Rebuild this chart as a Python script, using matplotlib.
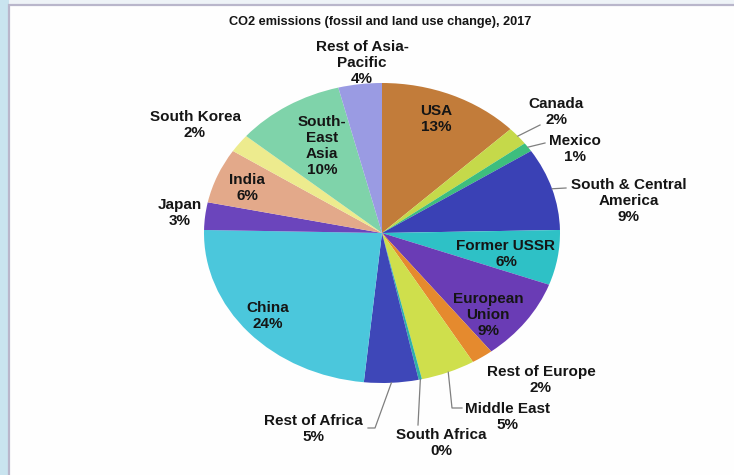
import matplotlib
matplotlib.use("Agg")
import matplotlib.pyplot as plt
import matplotlib.patches as mpatches
import numpy as np

regions = ["USA", "Canada", "Mexico", "South & Central\nAmerica", "Former USSR",
           "European\nUnion", "Rest of Europe", "Middle East", "South Africa",
           "Rest of Africa", "China", "Japan", "India", "South Korea",
           "South-\nEast\nAsia", "Rest of Asia-\nPacific"]
shares = [13, 2, 1, 9, 6, 9, 2, 5, 0.3, 5, 24, 3, 6, 2, 10, 4]
colors = ["#C27C3A", "#C5D94A", "#3DBE7E", "#3A41B5", "#2EC1C6", "#6A3CB5",
          "#E58A2E", "#CFDF4C", "#2FB0A8", "#3E47B8", "#4BC7DC", "#6B45BC",
          "#E3A98A", "#EDEB8E", "#7FD3AA", "#9A9BE3"]

# label anchor positions in pixels (x, y from top) and leader line targets
label_px = {
    "USA": (436, 119), "Canada": (556, 112), "Mexico": (575, 149),
    "South & Central\nAmerica": (629, 201), "Former USSR": (506, 254),
    "European\nUnion": (488, 315), "Rest of Europe": (541, 380),
    "Middle East": (507, 417), "South Africa": (441, 443),
    "Rest of Africa": (313, 429), "China": (268, 316), "Japan": (180, 213),
    "India": (247, 188), "South Korea": (195, 125),
    "South-\nEast\nAsia": (322, 146), "Rest of Asia-\nPacific": (362, 63),
}
leader_end_px = {
    "Canada": [(540, 125)], "Mexico": [(545, 143)],
    "South & Central\nAmerica": [(566, 188)],
    "Middle East": [(452, 408), (462, 408)],
    "South Africa": [(418, 425)],
    "Rest of Africa": [(375, 428), (368, 428)],
}

W, H = 734, 475
fig = plt.figure(figsize=(W / 100, H / 100), dpi=100)
fig.patch.set_facecolor("#FFFFFF")

# light blue strip on the left and top, then the chart frame
fig.patches.append(mpatches.Rectangle((0, 0), 1, 1, transform=fig.transFigure,
                                      facecolor="#EEF3F7", edgecolor="none", zorder=-6))
fig.patches.append(mpatches.Rectangle((0, 0), 9 / W, 1, transform=fig.transFigure,
                                      facecolor="#C9E4EF", edgecolor="none", zorder=-6))
frame = mpatches.Rectangle((9 / W, -0.05), 1.0, 1 - 5 / H + 0.05,
                           transform=fig.transFigure, facecolor="#FEFEFE",
                           edgecolor="#B9B6CB", linewidth=1.6, zorder=-5)
fig.patches.append(frame)

cx, cy, rx, ry = 382, 233, 178, 150
ax = fig.add_axes([(cx - rx) / W, (H - cy - ry) / H, 2 * rx / W, 2 * ry / H])
ax.set_zorder(2)
wedges, _ = ax.pie(shares, colors=colors, startangle=90, counterclock=False,
                   radius=1.0, wedgeprops=dict(linewidth=0))
ax.set_aspect("auto")
ax.set_xlim(-1, 1)
ax.set_ylim(-1, 1)
ax.axis("off")
for w in wedges:
    w.set_clip_on(False)

font = dict(family=["Liberation Sans", "DejaVu Sans"], fontsize=11,
            fontweight="bold", color="#151515")

def fpx(p):
    return (p[0] / W, 1 - p[1] / H)

for w, name, val in zip(wedges, regions, shares):
    txt = f"{name}\n{int(round(val))}%"
    fig.text(*fpx(label_px[name]), txt, ha="center", va="center",
             linespacing=1.18, zorder=10, **font)
    if name in leader_end_px:
        ang = np.deg2rad((w.theta1 + w.theta2) / 2)
        ex, ey = np.cos(ang), np.sin(ang)
        start = ax.transData.transform((ex, ey))
        pts = [start] + [fig.transFigure.transform(fpx(p)) for p in leader_end_px[name]]
        fpts = fig.transFigure.inverted().transform(np.array(pts))
        fig.add_artist(plt.Line2D(fpts[:, 0], fpts[:, 1], transform=fig.transFigure,
                                  color="#7F7F7F", linewidth=0.9, zorder=10))

fig.text(380 / W, 1 - 22 / H, "CO2 emissions (fossil and land use change), 2017",
         ha="center", va="center", zorder=10,
         **{**font, "fontsize": 9.2})

fig.savefig("out.png", dpi=100, facecolor=fig.get_facecolor())
